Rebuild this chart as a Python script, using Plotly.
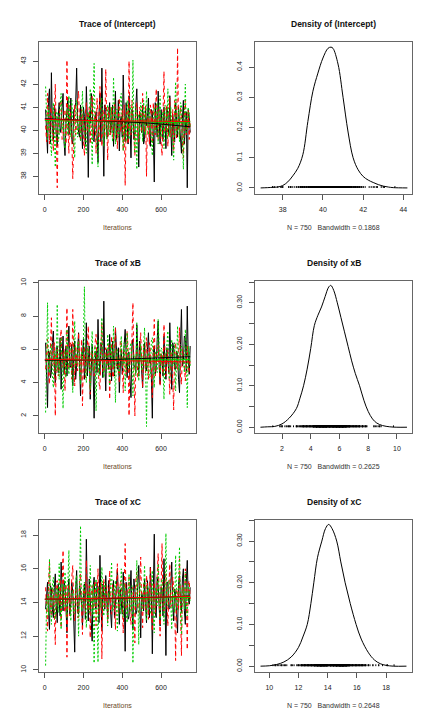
import plotly.graph_objects as go

# ---------------- data ----------------
ITER = list(range(5, 755, 5))           # iteration positions of the read samples
SMOOTH_ITER = [1, 250, 500, 750]

int_black = [40.9, 40.1, 39.0, 41.3, 41.8, 39.4, 42.5, 40.2, 39.6, 41.1, 40.8, 39.8, 39.3, 40.6, 41.2, 39.9,
             40.1, 41.0, 41.6, 39.5, 38.9, 40.3, 40.7, 41.4, 39.8, 40.0, 41.4, 39.6, 39.4, 40.9, 40.9, 41.2,
             42.7, 40.4, 39.9, 39.7, 41.1, 40.2, 39.2, 41.0, 40.6, 39.3, 41.9, 40.5, 37.95, 40.8, 40.3, 41.6,
             41.3, 39.6, 39.5, 40.4, 40.8, 39.9, 38.6, 40.7, 41.6, 39.5, 42.7, 40.3, 38.0, 41.1, 40.9, 39.8,
             39.7, 40.6, 41.2, 39.9, 40.2, 41.1, 39.3, 40.5, 41.7, 39.6, 40.0, 41.3, 39.1, 40.4, 40.6, 39.7,
             42.4, 40.8, 39.5, 41.2, 40.4, 39.4, 41.5, 40.0, 38.8, 40.9, 40.7, 39.6, 39.9, 41.1, 41.8, 40.2,
             38.4, 40.8, 40.5, 39.9, 41.1, 39.4, 39.6, 41.0, 40.2, 40.6, 41.4, 39.5, 39.3, 40.9, 40.8, 39.8,
             37.75, 41.2, 40.6, 39.7, 41.7, 40.5, 39.4, 40.9, 40.3, 39.6, 41.0, 40.4, 39.2, 41.0, 40.7, 39.8,
             41.5, 40.2, 38.9, 40.7, 40.1, 39.5, 41.2, 40.3, 39.7, 41.0, 40.4, 39.6, 39.0, 40.5, 41.3, 39.4,
             40.0, 40.8, 37.5, 40.9, 40.6, 39.9]
int_red = [40.2, 39.5, 41.6, 40.3, 39.4, 41.0, 40.8, 39.9, 39.1, 40.6, 42.0, 39.8, 37.5, 40.4, 40.5, 41.2,
           41.3, 39.6, 39.7, 40.8, 40.9, 39.4, 43.05, 40.1, 39.0, 41.1, 40.4, 39.7, 37.9, 40.5, 41.1, 39.8,
           40.0, 41.3, 41.7, 40.2, 39.5, 40.9, 40.6, 39.6, 38.9, 40.7, 41.2, 39.9, 40.3, 41.0, 39.4, 40.5,
           41.5, 39.7, 40.1, 40.8, 39.0, 41.4, 40.7, 39.5, 41.9, 40.2, 39.3, 40.9, 40.5, 39.7, 42.65, 40.3,
           38.7, 41.0, 40.2, 39.8, 41.0, 40.5, 39.6, 41.2, 40.8, 39.5, 39.2, 40.6, 41.4, 39.9, 40.0, 40.9,
           39.1, 41.1, 37.6, 40.3, 40.9, 39.4, 43.0, 40.1, 39.8, 41.3, 40.4, 39.6, 38.9, 40.8, 41.2, 39.7,
           39.5, 41.0, 40.7, 39.9, 41.6, 40.4, 39.9, 41.1, 38.0, 40.5, 40.6, 39.4, 41.1, 40.7, 39.4, 41.2,
           40.2, 39.8, 41.8, 40.4, 39.6, 40.9, 40.5, 39.5, 38.9, 40.6, 42.55, 39.9, 40.1, 41.1, 39.3, 40.4,
           41.4, 39.7, 40.0, 40.9, 39.1, 41.3, 40.8, 39.6, 43.58, 40.2, 39.7, 41.0, 40.6, 39.5, 38.8, 40.7,
           41.3, 39.8, 40.1, 40.9, 39.6, 40.3]
int_green = [41.9, 40.3, 39.6, 41.0, 40.5, 39.7, 38.9, 40.6, 41.2, 39.9, 38.4, 40.8, 40.8, 39.5, 39.8, 41.1,
             41.6, 40.0, 40.3, 39.6, 39.2, 40.7, 40.9, 39.8, 41.5, 40.2, 39.7, 41.3, 40.6, 39.5, 38.8, 40.9,
             41.3, 39.7, 40.1, 40.6, 39.5, 41.2, 41.7, 40.0, 40.2, 39.4, 39.0, 40.8, 40.7, 39.9, 41.8, 40.4,
             38.5, 41.1, 42.9, 40.0, 39.9, 39.3, 38.4, 40.5, 40.6, 41.2, 41.4, 39.8, 39.3, 40.7, 40.5, 39.6,
             41.1, 40.3, 39.8, 41.0, 40.3, 39.5, 42.3, 40.4, 39.4, 40.9, 40.9, 39.7, 40.0, 41.4, 41.6, 40.1,
             39.1, 40.6, 40.4, 39.5, 41.3, 40.8, 39.6, 41.1, 40.8, 39.9, 43.05, 40.2, 39.0, 41.0, 38.3, 40.4,
             40.7, 39.6, 41.2, 40.9, 39.5, 41.3, 40.1, 39.8, 41.7, 40.3, 39.8, 41.0, 40.4, 39.5, 38.9, 40.7,
             41.0, 39.9, 40.2, 41.2, 39.4, 40.5, 41.5, 39.7, 40.6, 40.8, 39.2, 41.1, 40.9, 39.6, 41.8, 40.2,
             39.7, 41.0, 40.3, 39.4, 38.7, 40.6, 42.1, 39.8, 40.0, 40.9, 39.5, 41.2, 41.1, 39.6, 38.3, 40.5,
             42.0, 39.9, 40.2, 41.0, 40.7, 40.1]

xb_black = [6.4, 4.7, 2.5, 5.9, 5.8, 4.3, 4.6, 6.4, 7.1, 5.0, 4.0, 6.1, 6.2, 4.6, 5.1, 6.7, 3.6, 5.4, 6.8, 4.5,
            5.3, 6.2, 4.4, 5.8, 7.4, 4.9, 5.0, 6.3, 3.8, 5.5, 6.5, 4.2, 4.9, 6.0, 7.0, 4.8, 3.2, 5.7, 5.6, 6.6,
            4.2, 5.1, 7.6, 4.4, 5.1, 6.2, 3.0, 5.6, 6.3, 4.7, 1.86, 5.3, 5.9, 4.6, 7.8, 5.5, 4.5, 6.4, 6.1, 4.3,
            8.9, 5.2, 3.5, 6.0, 5.4, 4.8, 6.9, 5.1, 4.1, 6.5, 5.7, 4.4, 7.3, 5.6, 4.8, 6.1, 3.4, 5.0, 6.0, 4.5,
            5.2, 6.3, 7.2, 4.9, 4.3, 5.8, 5.8, 4.1, 3.1, 6.2, 6.6, 5.0, 5.0, 4.6, 7.5, 5.9, 4.4, 6.5, 5.9, 4.7,
            3.7, 5.4, 6.4, 4.9, 4.7, 6.0, 7.0, 5.2, 5.5, 4.3, 1.86, 5.8, 6.2, 4.5, 4.9, 6.6, 7.7, 5.1, 3.9, 5.7,
            5.6, 4.4, 6.8, 5.3, 4.2, 6.1, 5.3, 4.6, 7.6, 5.5, 3.6, 6.4, 6.1, 4.8, 4.8, 5.9, 5.7, 4.2, 3.4, 6.3,
            8.4, 5.0, 5.2, 6.8, 6.7, 4.7, 8.6, 5.6, 4.5, 6.2]
xb_red = [4.8, 5.9, 6.6, 4.6, 3.9, 6.1, 7.9, 5.0, 5.2, 6.4, 2.0, 5.3, 6.0, 4.4, 4.5, 6.3, 7.2, 4.9, 5.6, 6.0,
          3.5, 5.7, 8.5, 4.8, 4.9, 6.5, 6.3, 4.2, 8.4, 5.5, 3.8, 6.2, 5.5, 4.7, 7.0, 5.1, 4.1, 6.6, 2.6, 5.4,
          6.2, 4.3, 5.0, 6.1, 7.4, 4.5, 3.3, 5.8, 5.9, 4.9, 4.4, 6.4, 6.9, 5.2, 5.1, 4.0, 3.6, 6.0, 7.6, 4.6,
          4.7, 5.7, 6.1, 4.8, 5.4, 6.3, 3.0, 5.1, 6.8, 4.4, 4.3, 6.2, 7.3, 5.0, 5.6, 4.7, 4.0, 6.5, 6.5, 5.3,
          3.4, 5.9, 5.8, 4.5, 7.1, 6.0, 2.0, 5.2, 5.3, 6.7, 8.8, 4.9, 2.0, 5.6, 6.0, 4.3, 4.6, 6.1, 7.0, 5.4,
          3.7, 6.3, 5.5, 4.6, 6.7, 5.0, 4.2, 6.4, 5.9, 4.8, 3.1, 5.7, 7.8, 4.4, 4.9, 6.0, 6.3, 5.1, 3.8, 5.8,
          5.2, 4.5, 7.5, 6.2, 4.4, 5.3, 6.0, 4.7, 3.3, 5.9, 5.7, 4.2, 2.36, 6.1, 6.4, 5.0, 4.8, 5.6, 7.3, 4.4,
          3.9, 6.0, 5.6, 4.9, 4.1, 5.8, 6.2, 4.6, 4.7, 5.4]
xb_green = [2.2, 5.6, 8.8, 4.9, 4.6, 6.2, 6.3, 4.4, 3.7, 5.9, 5.8, 4.7, 8.7, 5.3, 4.2, 6.4, 6.7, 4.8, 2.45, 5.7,
            5.9, 4.3, 7.2, 5.5, 4.5, 6.1, 6.1, 4.6, 3.4, 5.8, 7.7, 5.0, 5.0, 6.3, 6.5, 4.5, 3.9, 5.9, 5.4, 6.6,
            9.76, 4.8, 4.0, 6.0, 6.2, 5.1, 3.6, 5.6, 7.1, 4.7, 5.2, 6.2, 2.3, 5.4, 6.6, 4.4, 5.0, 6.1, 7.9, 5.2,
            4.3, 5.7, 5.7, 4.6, 6.9, 5.8, 3.8, 6.3, 5.5, 4.9, 7.4, 5.3, 2.8, 6.0, 6.0, 4.5, 4.7, 5.8, 6.8, 5.0,
            5.1, 6.4, 3.5, 5.5, 7.0, 4.8, 4.9, 6.1, 6.4, 5.2, 3.2, 5.7, 5.6, 4.4, 7.6, 6.0, 4.1, 5.4, 6.3, 4.7,
            5.0, 6.2, 7.3, 4.9, 1.36, 5.6, 5.8, 4.3, 4.4, 6.5, 6.7, 5.1, 3.7, 5.9, 5.3, 4.6, 7.8, 5.5, 4.6, 6.1,
            6.0, 4.8, 3.0, 5.7, 5.5, 6.3, 7.1, 4.5, 4.2, 5.8, 6.6, 5.0, 5.1, 6.4, 3.5, 5.2, 7.4, 4.7, 4.8, 6.0,
            6.2, 5.3, 5.4, 4.6, 7.2, 5.9, 2.5, 6.2, 5.9, 5.0]

xc_black = [13.6, 14.7, 15.2, 13.4, 12.4, 15.0, 14.8, 13.6, 13.1, 14.9, 15.7, 13.8, 12.8, 15.1, 14.3, 13.2,
            16.4, 14.1, 13.5, 15.3, 14.9, 13.7, 12.2, 14.6, 15.4, 13.3, 13.9, 15.2, 14.6, 12.9, 11.05, 14.8,
            15.9, 13.5, 13.3, 15.0, 14.7, 13.9, 12.6, 14.4, 15.1, 13.0, 17.76, 14.5, 12.9, 15.4, 14.4, 13.2,
            11.7, 14.9, 15.5, 13.8, 13.6, 15.2, 14.9, 12.8, 16.8, 14.3, 12.3, 15.1, 14.2, 13.6, 15.6, 14.0,
            13.0, 15.3, 14.5, 13.4, 12.5, 14.7, 15.3, 13.1, 13.8, 15.0, 16.0, 13.7, 12.7, 14.8, 14.1, 13.3,
            15.8, 14.5, 11.1, 15.2, 14.6, 13.0, 13.2, 14.9, 15.9, 13.6, 12.4, 15.4, 14.8, 13.3, 13.5, 15.1,
            16.2, 14.0, 11.9, 14.6, 14.3, 13.5, 15.4, 13.9, 12.8, 15.3, 14.0, 13.1, 16.1, 14.7, 10.95, 15.0,
            18.06, 13.4, 13.1, 15.5, 15.0, 13.8, 12.6, 14.9, 14.7, 13.2, 16.6, 14.4, 10.85, 15.2, 15.2, 13.6,
            13.7, 15.0, 16.4, 13.9, 12.9, 14.8, 14.5, 13.3, 12.2, 15.1, 15.6, 14.1, 13.4, 15.4, 16.0, 13.5,
            12.7, 15.2, 16.5, 14.3, 13.9, 14.9]
xc_red = [14.9, 13.5, 12.3, 15.0, 16.4, 13.7, 13.2, 14.9, 14.6, 13.3, 11.5, 15.2, 15.3, 13.9, 13.8, 15.4,
          12.5, 14.6, 17.1, 13.8, 13.4, 15.1, 10.75, 14.3, 15.1, 13.2, 14.0, 15.5, 16.2, 13.6, 12.9, 14.8,
          14.5, 13.1, 13.1, 15.3, 15.7, 13.9, 12.1, 14.7, 14.8, 13.4, 16.5, 14.2, 13.5, 15.0, 11.9, 14.5,
          15.0, 13.6, 14.2, 15.3, 12.6, 14.1, 16.0, 13.3, 13.7, 15.2, 10.65, 14.4, 15.4, 13.7, 14.3, 15.0,
          12.8, 14.6, 15.9, 13.5, 13.3, 15.1, 14.7, 13.8, 12.4, 14.9, 16.3, 13.4, 13.9, 15.3, 15.1, 14.0,
          12.2, 14.7, 17.5, 13.6, 13.6, 15.0, 15.5, 13.2, 12.7, 14.8, 14.9, 13.9, 11.6, 15.4, 15.8, 13.7,
          13.4, 14.6, 16.7, 14.1, 12.5, 15.2, 14.4, 13.5, 15.6, 14.9, 13.0, 15.3, 16.1, 13.8, 12.3, 14.5,
          15.2, 13.4, 13.8, 15.6, 16.9, 14.2, 12.0, 14.8, 17.5, 13.6, 13.5, 15.2, 15.7, 14.0, 12.6, 14.9,
          16.3, 13.7, 13.9, 15.5, 15.0, 14.3, 10.55, 14.7, 14.8, 13.5, 16.6, 14.4, 10.85, 15.0, 14.6, 13.8,
          16.0, 14.6, 11.2, 15.1, 15.3, 14.2]
xc_green = [10.25, 14.1, 14.4, 13.2, 16.6, 14.5, 12.7, 15.0, 15.5, 13.6, 13.0, 14.8, 14.9, 13.4, 16.3, 14.2,
            12.4, 15.1, 14.2, 13.7, 15.8, 14.4, 13.1, 15.2, 17.1, 13.9, 12.9, 14.6, 14.7, 13.3, 13.4, 15.3,
            15.6, 14.0, 12.0, 14.9, 18.55, 13.5, 13.7, 15.0, 15.2, 13.8, 12.5, 14.7, 14.6, 13.4, 16.2, 14.3,
            13.3, 15.1, 10.4, 14.5, 15.4, 13.6, 10.45, 14.9, 14.8, 13.7, 16.1, 14.2, 13.2, 15.2, 15.0, 13.9,
            12.6, 14.6, 14.3, 15.0, 16.4, 13.5, 13.6, 14.8, 15.3, 13.8, 12.3, 14.4, 14.9, 13.3, 16.0, 14.7,
            13.1, 15.1, 14.5, 13.6, 12.8, 14.9, 15.7, 13.4, 13.9, 15.0, 10.4, 14.3, 14.2, 13.7, 16.5, 14.6,
            11.5, 15.2, 15.1, 13.5, 13.6, 14.8, 16.2, 13.9, 12.9, 15.0, 14.8, 13.6, 13.3, 14.7, 15.9, 13.2,
            12.2, 14.9, 14.6, 13.8, 16.3, 14.4, 13.0, 15.1, 15.4, 13.5, 12.7, 14.6, 18.1, 13.9, 13.8, 15.3,
            15.1, 14.0, 12.4, 14.8, 14.9, 13.4, 16.8, 14.5, 13.5, 15.0, 17.3, 13.7, 12.1, 14.9, 14.7, 13.6,
            15.8, 14.2, 13.2, 15.1, 14.4, 14.0]

# smoothed (lowess) trend per chain [black, red, green], read at SMOOTH_ITER
int_smooth = [[40.50, 40.42, 40.33, 40.15], [40.47, 40.42, 40.40, 40.38], [40.42, 40.40, 40.36, 40.32]]
xb_smooth = [[5.35, 5.36, 5.45, 5.56], [5.40, 5.35, 5.30, 5.24], [5.35, 5.36, 5.37, 5.38]]
xc_smooth = [[14.20, 14.22, 14.28, 14.38], [14.20, 14.24, 14.30, 14.36], [14.18, 14.22, 14.26, 14.30]]

# kernel density curves
int_dens_x = [36.9, 37.25, 37.5, 37.75, 38.0, 38.25, 38.5, 38.75, 39.0, 39.25, 39.5, 39.75, 40.0, 40.25,
              40.4, 40.5, 40.75, 41.0, 41.25, 41.5, 41.75, 42.0, 42.25, 42.5, 42.75, 43.0, 43.25, 43.5, 44.2]
int_dens_y = [0.0, 0.001, 0.002, 0.003, 0.008, 0.02, 0.04, 0.065, 0.11, 0.22, 0.32, 0.38, 0.43, 0.462,
              0.466, 0.462, 0.41, 0.30, 0.185, 0.10, 0.06, 0.038, 0.026, 0.018, 0.011, 0.006, 0.003, 0.001, 0.0]
xb_dens_x = [0.5, 1.0, 1.5, 2.0, 2.5, 3.0, 3.25, 3.5, 3.75, 4.0, 4.25, 4.5, 4.75, 5.0, 5.25, 5.4, 5.6,
             5.85, 6.1, 6.35, 6.6, 6.85, 7.1, 7.4, 7.7, 8.0, 8.3, 8.6, 9.0, 9.5, 10.0, 10.7]
xb_dens_y = [0.0, 0.001, 0.002, 0.008, 0.022, 0.045, 0.07, 0.10, 0.14, 0.19, 0.245, 0.27, 0.29, 0.315,
             0.338, 0.342, 0.33, 0.30, 0.265, 0.23, 0.195, 0.16, 0.13, 0.10, 0.065, 0.038, 0.02, 0.01,
             0.004, 0.001, 0.0, 0.0]
xc_dens_x = [9.4, 10.0, 10.5, 11.0, 11.5, 12.0, 12.3, 12.6, 12.85, 13.05, 13.3, 13.6, 13.85, 14.07, 14.3,
             14.62, 14.9, 15.2, 15.55, 15.95, 16.3, 16.8, 17.2, 17.6, 18.0, 18.5, 19.4]
xc_dens_y = [0.0, 0.001, 0.004, 0.01, 0.022, 0.045, 0.07, 0.10, 0.15, 0.20, 0.26, 0.30, 0.33, 0.34, 0.33,
             0.30, 0.25, 0.20, 0.15, 0.10, 0.065, 0.032, 0.015, 0.006, 0.002, 0.0, 0.0]

names = ["(Intercept)", "xB", "xC"]
bandwidths = ["0.1868", "0.2625", "0.2648"]
n_label = "750"

trace_xticks = [0, 200, 400, 600]
int_yticks = [38, 39, 40, 41, 42, 43]
xb_yticks = [2, 4, 6, 8, 10]
xc_yticks = [10, 12, 14, 16, 18]
int_dens_xticks = [38, 40, 42, 44]
xb_dens_xticks = [2, 4, 6, 8, 10]
xc_dens_xticks = [10, 12, 14, 16, 18]

# ---------------- figure ----------------
OFF = 8                      # default page body margin
W, H = 432 - 2 * OFF, 720 - 2 * OFF
FONT = "Liberation Sans, Arial, Helvetica, sans-serif"
CHAIN_COLORS = ["#000000", "#FF0000", "#00CD00"]
CHAIN_DASH = ["solid", "4px,3px", "2px,2px"]
SMOOTH_ORDER = [2, 0, 1]

panels = [
    dict(chains=[int_black, int_red, int_green], smooth=int_smooth, dx=int_dens_x, dy=int_dens_y,
         tyr=[37.22, 43.84], tyt=int_yticks, dxr=[36.62, 44.43], dyr=[-0.0208, 0.4834],
         dxt=int_dens_xticks, yfmt=".1f", minor=False),
    dict(chains=[xb_black, xb_red, xb_green], smooth=xb_smooth, dx=xb_dens_x, dy=xb_dens_y,
         tyr=[0.96, 10.12], tyt=xb_yticks, dxr=[0.12, 11.05], dyr=[-0.0144, 0.353],
         dxt=xb_dens_xticks, yfmt=".2f", minor=True),
    dict(chains=[xc_black, xc_red, xc_green], smooth=xc_smooth, dx=xc_dens_x, dy=xc_dens_y,
         tyr=[9.86, 18.91], tyt=xc_yticks, dxr=[9.02, 19.78], dyr=[-0.0144, 0.351],
         dxt=xc_dens_xticks, yfmt=".2f", minor=True),
]

fig = go.Figure()
layout = dict(width=W, height=H, margin=dict(l=0, r=0, t=0, b=0), showlegend=False,
              paper_bgcolor="white", plot_bgcolor="white", font=dict(family=FONT, size=7, color="#333"))
annotations = []


def px(v):
    return (v - OFF) / W


def py(v):
    return 1 - (v - OFF) / H


axis_common = dict(showline=True, mirror=True, linecolor="#666", linewidth=1, showgrid=False,
                   zeroline=False, ticks="outside", ticklen=5, tickwidth=1, tickcolor="#555",
                   tickfont=dict(family=FONT, size=7, color="#222"))


def aname(prefix, i):
    return prefix + ("" if i == 1 else str(i))


for r, p in enumerate(panels):
    off = 240 * r
    ydom = [py(192 + off), py(39 + off)]
    tid = 2 * r + 1
    did = 2 * r + 2
    # trace panel
    for k, ch in enumerate(p["chains"]):
        fig.add_trace(go.Scatter(x=ITER[:len(ch)], y=ch, mode="lines",
                                 line=dict(color=CHAIN_COLORS[k], width=1.0, dash=CHAIN_DASH[k]),
                                 xaxis=aname("x", tid), yaxis=aname("y", tid), hoverinfo="skip"))
    for k in SMOOTH_ORDER:
        fig.add_trace(go.Scatter(x=SMOOTH_ITER, y=p["smooth"][k], mode="lines", line_shape="spline",
                                 line=dict(color=CHAIN_COLORS[k], width=1.0),
                                 xaxis=aname("x", tid), yaxis=aname("y", tid), hoverinfo="skip"))
    layout[aname("xaxis", tid)] = dict(axis_common, domain=[px(39), px(196)], range=[-29, 780],
                                       tickvals=trace_xticks, anchor=aname("y", tid), ticklabelstandoff=3)
    layout[aname("yaxis", tid)] = dict(axis_common, domain=ydom, range=p["tyr"], tickvals=p["tyt"],
                                       tickangle=-90, anchor=aname("x", tid), ticklabelstandoff=4)
    # density panel
    fig.add_trace(go.Scatter(x=p["dx"], y=p["dy"], mode="lines", line_shape="spline",
                             line=dict(color="#000", width=1),
                             xaxis=aname("x", did), yaxis=aname("y", did), hoverinfo="skip"))
    allv = [v for ch in p["chains"] for v in ch]
    h = max(p["dy"]) / 100 * 1.3
    rx, ry = [], []
    for v in allv:
        rx += [v, v, None]
        ry += [0, h, None]
    fig.add_trace(go.Scatter(x=rx, y=ry, mode="lines", line=dict(color="#000", width=1),
                             xaxis=aname("x", did), yaxis=aname("y", did), hoverinfo="skip"))
    ymax = 0.4 if not p["minor"] else 0.3
    yt = [round(i * 0.1, 2) for i in range(int(round(ymax / 0.1)) + 1)]
    ycfg = dict(axis_common, domain=ydom, range=p["dyr"], tickvals=yt, tickformat=p["yfmt"],
                tickangle=-90, anchor=aname("x", did), ticklabelstandoff=4)
    if p["minor"]:
        ycfg["minor"] = dict(tickvals=[0.05, 0.15, 0.25, 0.35], ticks="outside", ticklen=5,
                             tickcolor="#555", showgrid=False)
    layout[aname("xaxis", did)] = dict(axis_common, domain=[px(255), px(412)], range=p["dxr"],
                                       tickvals=p["dxt"], anchor=aname("y", did), ticklabelstandoff=3)
    layout[aname("yaxis", did)] = ycfg

    # titles and axis labels
    annotations.append(dict(text="<b>Trace of " + names[r] + "</b>", x=px(117.5), y=py(21.5 + off),
                            xref="paper", yref="paper", showarrow=False, xanchor="center",
                            yanchor="middle", font=dict(family=FONT, size=8.5, color="#111")))
    annotations.append(dict(text="<b>Density of " + names[r] + "</b>", x=px(333.5), y=py(21.5 + off),
                            xref="paper", yref="paper", showarrow=False, xanchor="center",
                            yanchor="middle", font=dict(family=FONT, size=8.5, color="#111")))
    annotations.append(dict(text="Iterations", x=px(117.5), y=py(225.5 + off), xref="paper", yref="paper",
                            showarrow=False, xanchor="center", yanchor="middle",
                            font=dict(family=FONT, size=7, color="#6a4a28")))
    annotations.append(dict(text="N = " + n_label + "   Bandwidth = " + bandwidths[r], x=px(333.5),
                            y=py(225.5 + off), xref="paper", yref="paper", showarrow=False,
                            xanchor="center", yanchor="middle",
                            font=dict(family=FONT, size=7, color="#333")))

layout["annotations"] = annotations
fig.update_layout(**layout)
fig.write_html("out.html")
